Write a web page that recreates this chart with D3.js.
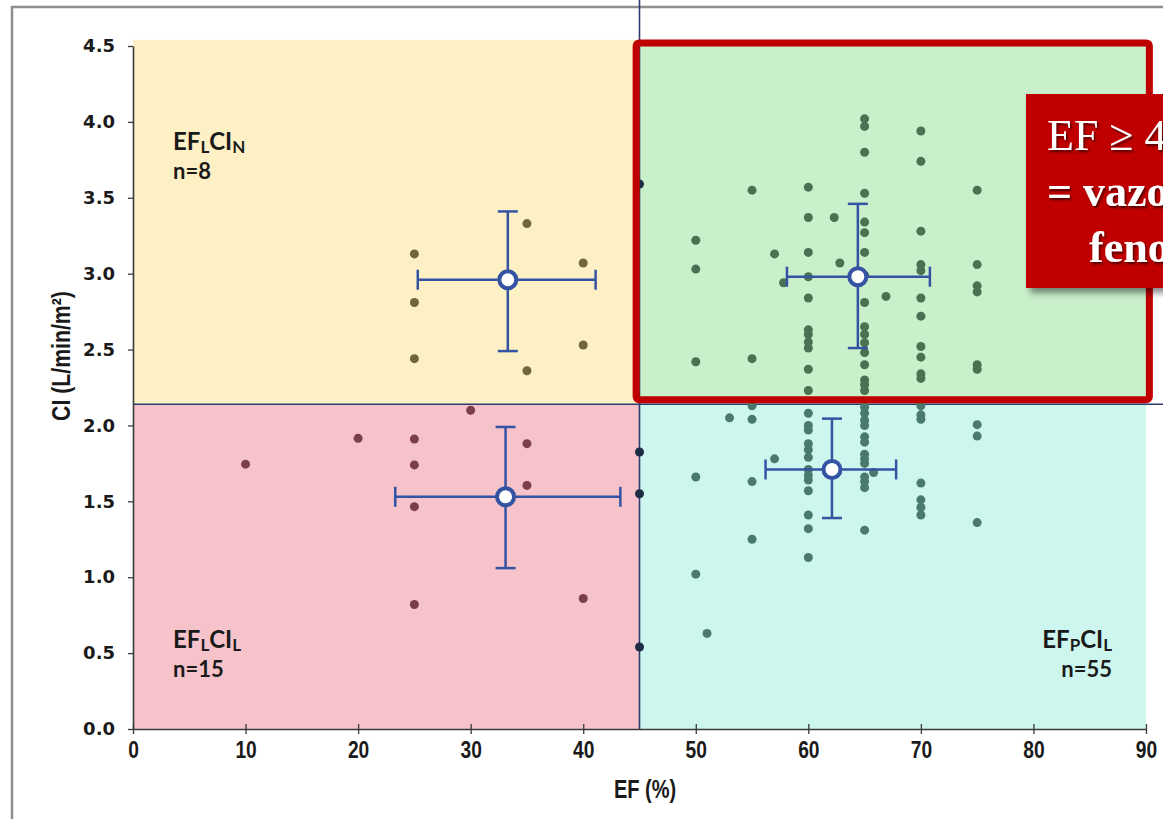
<!DOCTYPE html>
<html>
<head>
<meta charset="utf-8">
<script src="https://cdn.jsdelivr.net/npm/d3@7/dist/d3.min.js"></script>
<style>
  body { margin: 0; background: #fff; }
  svg { display: block; }
</style>
</head>
<body>
<div id="chart"></div>
<script>
// [EF %, CI L/min/m2] per phenotype
const pointsLowNormal = [[25, 3.13], [25, 2.81], [25, 2.44], [35, 3.33], [35, 2.36],
  [40, 3.07], [40, 2.53], [45, 3.59]]
const pointsLowLow = [[30, 2.10], [20, 1.915], [25, 1.91], [35, 1.88], [45, 1.825],
  [10, 1.745], [25, 1.74], [35, 1.605], [45, 1.55], [25, 1.465], [40, 0.86],
  [25, 0.82], [45, 0.54]]
const pointsPresNormal = [
  [50, 3.22], [50, 3.03], [50, 2.42],
  [55, 3.55], [55, 2.44], [57, 3.13], [57.8, 2.94],
  [60, 3.57], [60, 3.37], [60, 3.14], [60, 2.98], [60, 2.84], [60, 2.63], [60, 2.60],
  [60, 2.55], [60, 2.51], [60, 2.37], [60, 2.23],
  [62.3, 3.37], [62.8, 3.07],
  [65, 4.02], [65, 3.97], [65, 3.80], [65, 3.53], [65, 3.34], [65, 3.27], [65, 3.14],
  [65, 2.99], [65, 2.81], [65, 2.65], [65, 2.60], [65, 2.545], [65, 2.48], [65, 2.40],
  [65, 2.30], [65, 2.27], [65, 2.23],
  [66.9, 2.85],
  [70, 3.94], [70, 3.74], [70, 3.28], [70, 3.06], [70, 3.02], [70, 2.84], [70, 2.72],
  [70, 2.52], [70, 2.45], [70, 2.34], [70, 2.31],
  [75, 3.55], [75, 3.06], [75, 2.92], [75, 2.88], [75, 2.40], [75, 2.37]]
const pointsPresLow = [
  [50, 1.66], [50, 1.02], [51, 0.63], [53, 2.05],
  [55, 2.13], [55, 2.04], [55, 1.63], [55, 1.25], [57, 1.78],
  [60, 2.08], [60, 2.00], [60, 1.97], [60, 1.88], [60, 1.84], [60, 1.79], [60, 1.71],
  [60, 1.67], [60, 1.64], [60, 1.57], [60, 1.41], [60, 1.32], [60, 1.13],
  [65, 2.12], [65, 2.08], [65, 2.035], [65, 2.00], [65, 1.925], [65, 1.89], [65, 1.81],
  [65, 1.78], [65, 1.75], [65, 1.66], [65, 1.63], [65, 1.59], [65, 1.31], [65.8, 1.69],
  [70, 2.13], [70, 2.07], [70, 2.04], [70, 1.62], [70, 1.51], [70, 1.46], [70, 1.41],
  [75, 2.005], [75, 1.93], [75, 1.36]]

// group means with error bars (yellow, pink, green, cyan)
const meanEF = [33.3, 33.1, 64.4, 62.1]
const meanCI = [2.96, 1.53, 2.98, 1.71]
const efLow = [25.3, 23.3, 58.1, 56.2]
const efHigh = [41.1, 43.3, 70.8, 67.8]
const ciLow = [2.49, 1.06, 2.51, 1.39]
const ciHigh = [3.41, 1.99, 3.46, 2.045]

const efTicks = [0, 10, 20, 30, 40, 50, 60, 70, 80, 90]
const ciTicks = [0, 0.5, 1.0, 1.5, 2.0, 2.5, 3.0, 3.5, 4.0, 4.5]
const efCut = 45
const ciCut = 2.14

const quadLabels = [["EF", "L", "CI", "N"], ["EF", "L", "CI", "L"], ["EF", "P", "CI", "L"]]
const quadCounts = ["n=8", "n=15", "n=55"]
// the callout runs off the right edge of the slide, as in the original
const calloutLines = ["EF \u2265 45% ve CI \u2265 2.2", "= vazoplejik", "fenotip"]

var 維 = {
  width: 1163,
  height: 819,
  plot: { left: 133, right: 1146, top: 46, bottom: 729 },
  bgTop: 4.54,
  dotR: 4.5,
  squeeze: 0.8,
}

var svg = d3.select("#chart").append("svg")
  .attr("width", 維.width)
  .attr("height", 維.height)

var defs = svg.append("defs")
var boxShadow = defs.append("filter").attr("id", "box-shadow")
  .attr("x", "-10%").attr("y", "-10%").attr("width", "130%").attr("height", "130%")
boxShadow.append("feDropShadow")
  .attr("dx", 4).attr("dy", 5).attr("stdDeviation", 3)
  .attr("flood-color", "#000").attr("flood-opacity", 0.45)
var textShadow = defs.append("filter").attr("id", "text-shadow")
textShadow.append("feDropShadow")
  .attr("dx", 1.5).attr("dy", 2).attr("stdDeviation", 1.2)
  .attr("flood-color", "#000").attr("flood-opacity", 0.6)

var x = d3.scaleLinear().domain([0, 90]).range([維.plot.left, 維.plot.right])
var y = d3.scaleLinear().domain([0, 4.5]).range([維.plot.bottom, 維.plot.top])

// outer frame of the slide picture
svg.append("rect")
  .attr("x", 12).attr("y", 7)
  .attr("width", 1300).attr("height", 1000)
  .attr("fill", "none")
  .attr("stroke", "#8f8f8f")
  .attr("stroke-width", 2.5)

// quadrant backgrounds
var quads = [
  { x0: 0, x1: efCut, y0: ciCut, y1: 維.bgTop, fill: "#fcf0c4" },
  { x0: efCut, x1: 90, y0: ciCut, y1: 維.bgTop, fill: "#c9efcb" },
  { x0: 0, x1: efCut, y0: 0, y1: ciCut, fill: "#f6c3cb" },
  { x0: efCut, x1: 90, y0: 0, y1: ciCut, fill: "#cdf6ee" },
]
svg.append("g").selectAll("rect")
  .data(quads)
  .join("rect")
  .attr("x", d => x(d.x0))
  .attr("y", d => y(d.y1))
  .attr("width", d => x(d.x1) - x(d.x0))
  .attr("height", d => y(d.y0) - y(d.y1))
  .attr("fill", d => d.fill)

// cut lines
svg.append("line")
  .attr("x1", x(efCut)).attr("x2", x(efCut))
  .attr("y1", 0).attr("y2", y(0))
  .attr("stroke", "#2d3d6e").attr("stroke-width", 1.6)
svg.append("line")
  .attr("x1", x(0)).attr("x2", 維.width)
  .attr("y1", y(ciCut)).attr("y2", y(ciCut))
  .attr("stroke", "#2d3d6e").attr("stroke-width", 1.6)

// dots
var groups = [
  { data: pointsLowNormal, color: "#6e663f" },
  { data: pointsLowLow, color: "#7b3f4a" },
  { data: pointsPresNormal, color: "#4a7151" },
  { data: pointsPresLow, color: "#4a7a6c" },
]
var gDots = svg.append("g")
groups.forEach(g => {
  gDots.append("g").selectAll("circle")
    .data(g.data)
    .join("circle")
    .attr("cx", d => x(d[0]))
    .attr("cy", d => y(d[1]))
    .attr("r", 維.dotR)
    .attr("fill", d => d[0] === efCut ? "#1f2c46" : g.color)
})

// mean +/- error bars
var gMeans = svg.append("g")
  .attr("stroke", "#3553a3")
  .attr("fill", "none")
meanEF.forEach((ef, i) => {
  var g = gMeans.append("g")
  var cx = x(ef), cy = y(meanCI[i])
  g.append("line").attr("x1", x(efLow[i])).attr("x2", x(efHigh[i]))
    .attr("y1", cy).attr("y2", cy).attr("stroke-width", 2.5)
  g.append("line").attr("x1", cx).attr("x2", cx)
    .attr("y1", y(ciLow[i])).attr("y2", y(ciHigh[i])).attr("stroke-width", 2.5)
  ;[efLow[i], efHigh[i]].forEach(v => {
    g.append("line").attr("x1", x(v)).attr("x2", x(v))
      .attr("y1", cy - 10).attr("y2", cy + 10).attr("stroke-width", 2.5)
  })
  ;[ciLow[i], ciHigh[i]].forEach(v => {
    g.append("line").attr("x1", cx - 10).attr("x2", cx + 10)
      .attr("y1", y(v)).attr("y2", y(v)).attr("stroke-width", 2.5)
  })
  g.append("circle").attr("cx", cx).attr("cy", cy).attr("r", 8.5)
    .attr("fill", "#fff").attr("stroke-width", 4)
})

// x axis
var gx = svg.append("g")
  .attr("transform", `translate(0,${y(0)})`)
  .call(d3.axisBottom(x).tickValues(efTicks).tickSize(5).tickPadding(7).tickSizeOuter(0))
gx.select(".domain").attr("stroke", "#3a3a3a").attr("stroke-width", 1.6)
gx.selectAll(".tick line").attr("y1", -5).attr("stroke", "#3a3a3a").attr("stroke-width", 1.3)
gx.selectAll(".tick text")
  .attr("font-family", "'Liberation Sans', Arial, sans-serif")
  .attr("font-weight", "bold")
  .attr("font-size", 24)
  .attr("fill", "#1a1a1a")
  .attr("transform", `scale(${維.squeeze},1)`)

// y axis
var gy = svg.append("g")
  .attr("transform", `translate(${x(0)},0)`)
  .call(d3.axisLeft(y).tickValues(ciTicks).tickFormat(d3.format(".1f"))
    .tickSize(5).tickPadding(13).tickSizeOuter(0))
gy.select(".domain").attr("stroke", "#3a3a3a").attr("stroke-width", 1.6)
gy.selectAll(".tick line").attr("stroke", "#3a3a3a").attr("stroke-width", 1.3)
gy.selectAll(".tick text")
  .attr("font-family", "'DejaVu Sans', sans-serif")
  .attr("font-weight", "bold")
  .attr("font-size", 18)
  .attr("fill", "#1a1a1a")

// axis titles
svg.append("text")
  .attr("transform", `translate(645,798) scale(${維.squeeze},1)`)
  .attr("text-anchor", "middle")
  .attr("font-family", "'Liberation Sans', Arial, sans-serif")
  .attr("font-weight", "bold")
  .attr("font-size", 25)
  .attr("fill", "#1a1a1a")
  .text("EF (%)")
svg.append("text")
  .attr("transform", `translate(70,356) rotate(-90) scale(0.85,1)`)
  .attr("text-anchor", "middle")
  .attr("font-family", "'Liberation Sans', Arial, sans-serif")
  .attr("font-weight", "bold")
  .attr("font-size", 25)
  .attr("fill", "#1a1a1a")
  .text("CI (L/min/m\u00b2)")

// quadrant labels
var labelPos = [
  { x: 173, y: 150, anchor: "start" },
  { x: 173, y: 648, anchor: "start" },
  { x: 1112, y: 648, anchor: "end" },
]
quadLabels.forEach((parts, i) => {
  var p = labelPos[i]
  var g = svg.append("g")
    .attr("transform", `translate(${p.x},${p.y})`)
    .attr("font-family", "Lato, 'Open Sans', sans-serif")
    .attr("font-weight", "bold")
    .attr("fill", "#1a1a1a")
    .attr("text-anchor", p.anchor)
  var t = g.append("text").attr("font-size", 24)
  parts.forEach((s, j) => {
    var sub = j % 2 === 1
    t.append("tspan")
      .attr("font-size", sub ? 17 : 24)
      .attr("dy", sub ? 3 : (j === 0 ? 0 : -3))
      .text(s)
  })
  g.append("text")
    .attr("y", 29)
    .attr("font-size", 22)
    .text(quadCounts[i])
})

// highlight box around the preserved EF / normal CI quadrant
svg.append("rect")
  .attr("x", x(44.7))
  .attr("y", y(4.52))
  .attr("width", x(90.3) - x(44.7))
  .attr("height", y(2.17) - y(4.52))
  .attr("rx", 3)
  .attr("fill", "none")
  .attr("stroke", "#c00000")
  .attr("stroke-width", 7)

// callout
svg.append("rect")
  .attr("x", 1026).attr("y", 94)
  .attr("width", 220).attr("height", 194)
  .attr("fill", "#c00000")
  .attr("filter", "url(#box-shadow)")

var gCallout = svg.append("g")
  .attr("font-family", "'Liberation Serif', 'DejaVu Serif', serif")
  .attr("fill", "#fff")
  .attr("filter", "url(#text-shadow)")
var calloutPos = [[1047, 150, "normal"], [1047, 206, "bold"], [1089, 262, "bold"]]
calloutLines.forEach((s, i) => {
  gCallout.append("text")
    .attr("transform", `translate(${calloutPos[i][0]},${calloutPos[i][1]})`)
    .attr("font-size", 44)
    .attr("font-weight", calloutPos[i][2])
    .text(s)
})
</script>
</body>
</html>
